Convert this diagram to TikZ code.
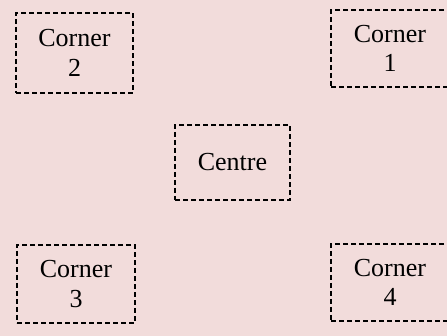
\documentclass[tikz,border=0pt]{standalone}
\usepackage{fontspec}
\setmainfont{Liberation Serif}
\definecolor{bgpink}{HTML}{F2DCDB}
\begin{document}
\begin{tikzpicture}[x=1pt,y=1pt,
  box/.style={draw=black, dash pattern=on 5pt off 3pt, line width=1.4pt,
    align=center, inner sep=0pt, font=\fontsize{26}{29.5}\selectfont}]
\fill[bgpink] (0,0) rectangle (447,336);
\clip (0,0) rectangle (447,336);
\node[box, minimum width=117, minimum height=80] (c2) at (74.5,283) {Corner\\2};
\node[box, minimum width=118, minimum height=77] (c1) at (390,287.5) {Corner\\1};
\node[box, minimum width=115, minimum height=75] (ce) at (232.5,173.5) {Centre};
\node[box, minimum width=118, minimum height=78] (c3) at (76,52) {Corner\\3};
\node[box, minimum width=118, minimum height=77] (c4) at (390,53.5) {Corner\\4};
\end{tikzpicture}
\end{document}
